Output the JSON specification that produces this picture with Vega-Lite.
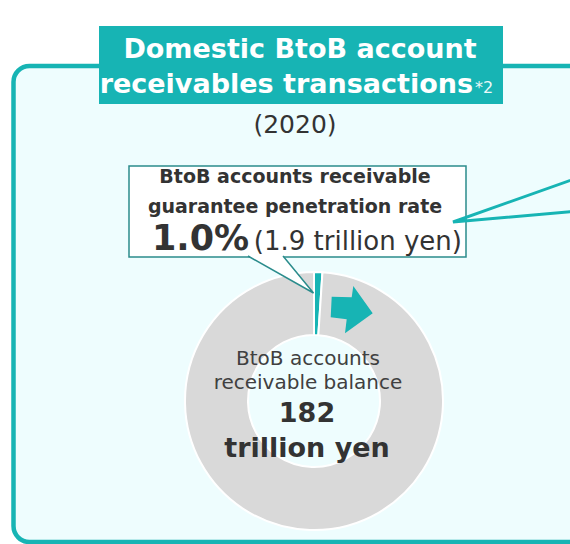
{
  "$schema": "https://vega.github.io/schema/vega-lite/v6.json",
  "width": 570,
  "height": 544,
  "autosize": {"type": "fit", "contains": "padding"},
  "padding": 0,
  "background": "white",
  "config": {"view": {"stroke": null}, "text": {"font": "DejaVu Sans", "baseline": "alphabetic"}},
  "datasets": {
    "balance": [
      {"category": "Guaranteed receivables", "value": 1.9},
      {"category": "Other receivables", "value": 180.1}
    ],
    "one": [{}]
  },
  "layer": [
    {
      "data": {"name": "one"},
      "mark": {"type": "rect", "clip": true, "cornerRadius": 16, "fill": "#EEFDFE", "stroke": "#17B4B4", "strokeWidth": 4.5},
      "encoding": {
        "x": {"datum": 13.5, "type": "quantitative", "scale": {"domain": [0, 570], "nice": false, "zero": false}, "axis": null},
        "x2": {"datum": 590},
        "y": {"datum": 66, "type": "quantitative", "scale": {"domain": [544, 0], "nice": false, "zero": false}, "axis": null},
        "y2": {"datum": 542}
      }
    },
    {
      "data": {"name": "one"},
      "mark": {"type": "rect", "fill": "#17B4B4"},
      "encoding": {
        "x": {"datum": 99, "type": "quantitative", "scale": {"domain": [0, 570], "nice": false, "zero": false}, "axis": null},
        "x2": {"datum": 503},
        "y": {"datum": 26, "type": "quantitative", "scale": {"domain": [544, 0], "nice": false, "zero": false}, "axis": null},
        "y2": {"datum": 104}
      }
    },
    {
      "data": {"name": "one"},
      "mark": {"type": "text", "text": "Domestic BtoB account", "fontSize": 27, "fontWeight": "bold", "fill": "white", "align": "center"},
      "encoding": {
        "x": {"datum": 300, "type": "quantitative", "scale": {"domain": [0, 570], "nice": false, "zero": false}, "axis": null},
        "y": {"datum": 58, "type": "quantitative", "scale": {"domain": [544, 0], "nice": false, "zero": false}, "axis": null}
      }
    },
    {
      "data": {"name": "one"},
      "mark": {"type": "text", "text": "receivables transactions", "fontSize": 27, "fontWeight": "bold", "fill": "white", "align": "right"},
      "encoding": {
        "x": {"datum": 473, "type": "quantitative", "scale": {"domain": [0, 570], "nice": false, "zero": false}, "axis": null},
        "y": {"datum": 93, "type": "quantitative", "scale": {"domain": [544, 0], "nice": false, "zero": false}, "axis": null}
      }
    },
    {
      "data": {"name": "one"},
      "mark": {"type": "text", "text": "*2", "fontSize": 16, "fill": "#EAF9F9", "align": "left"},
      "encoding": {
        "x": {"datum": 475, "type": "quantitative", "scale": {"domain": [0, 570], "nice": false, "zero": false}, "axis": null},
        "y": {"datum": 93, "type": "quantitative", "scale": {"domain": [544, 0], "nice": false, "zero": false}, "axis": null}
      }
    },
    {
      "data": {"name": "one"},
      "mark": {"type": "text", "text": "(2020)", "fontSize": 25, "fill": "#333333", "align": "center"},
      "encoding": {
        "x": {"datum": 295, "type": "quantitative", "scale": {"domain": [0, 570], "nice": false, "zero": false}, "axis": null},
        "y": {"datum": 133, "type": "quantitative", "scale": {"domain": [544, 0], "nice": false, "zero": false}, "axis": null}
      }
    },
    {
      "data": {"name": "balance"},
      "mark": {"type": "arc", "innerRadius": 66, "outerRadius": 129, "stroke": "white", "strokeWidth": 2},
      "encoding": {
        "theta": {"field": "value", "type": "quantitative", "stack": true},
        "order": {"field": "value", "sort": "ascending"},
        "color": {"field": "category", "type": "nominal", "scale": {"domain": ["Guaranteed receivables", "Other receivables"], "range": ["#17B4B4", "#D9D9D9"]}, "legend": null},
        "x": {"datum": 314, "type": "quantitative", "scale": {"domain": [0, 570], "nice": false, "zero": false}, "axis": null},
        "y": {"datum": 401, "type": "quantitative", "scale": {"domain": [544, 0], "nice": false, "zero": false}, "axis": null}
      }
    },
    {
      "data": {"name": "one"},
      "mark": {"type": "point", "shape": "M-0.812,-0.532L-0.012,-0.508L0.052,-0.96L0.828,0.132L-0.28,0.932L-0.212,0.372L-0.852,0.292Z", "size": 2500, "filled": true, "fill": "#17B4B4", "opacity": 1, "strokeWidth": 0},
      "encoding": {
        "x": {"datum": 352, "type": "quantitative", "scale": {"domain": [0, 570], "nice": false, "zero": false}, "axis": null},
        "y": {"datum": 310, "type": "quantitative", "scale": {"domain": [544, 0], "nice": false, "zero": false}, "axis": null}
      }
    },
    {
      "data": {"name": "one"},
      "mark": {"type": "text", "text": ["BtoB accounts", "receivable balance"], "fontSize": 20, "lineHeight": 24, "fill": "#404040", "align": "center"},
      "encoding": {
        "x": {"datum": 308, "type": "quantitative", "scale": {"domain": [0, 570], "nice": false, "zero": false}, "axis": null},
        "y": {"datum": 365, "type": "quantitative", "scale": {"domain": [544, 0], "nice": false, "zero": false}, "axis": null}
      }
    },
    {
      "data": {"name": "one"},
      "mark": {"type": "text", "text": ["182", "trillion yen"], "fontSize": 27, "fontWeight": "bold", "lineHeight": 35, "fill": "#333333", "align": "center"},
      "encoding": {
        "x": {"datum": 307, "type": "quantitative", "scale": {"domain": [0, 570], "nice": false, "zero": false}, "axis": null},
        "y": {"datum": 422, "type": "quantitative", "scale": {"domain": [544, 0], "nice": false, "zero": false}, "axis": null}
      }
    },
    {
      "data": {"name": "one"},
      "mark": {"type": "rect", "fill": "white", "stroke": "#2B8C8C", "strokeWidth": 1.5},
      "encoding": {
        "x": {"datum": 129, "type": "quantitative", "scale": {"domain": [0, 570], "nice": false, "zero": false}, "axis": null},
        "x2": {"datum": 466},
        "y": {"datum": 166, "type": "quantitative", "scale": {"domain": [544, 0], "nice": false, "zero": false}, "axis": null},
        "y2": {"datum": 257}
      }
    },
    {
      "data": {"name": "one"},
      "mark": {"type": "point", "shape": "M-0.8,-0.475L0.8375,0.45L0.075,-0.475", "size": 6400, "filled": true, "fill": "white", "stroke": "#2B8C8C", "strokeWidth": 1.5, "opacity": 1},
      "encoding": {
        "x": {"datum": 280, "type": "quantitative", "scale": {"domain": [0, 570], "nice": false, "zero": false}, "axis": null},
        "y": {"datum": 275, "type": "quantitative", "scale": {"domain": [544, 0], "nice": false, "zero": false}, "axis": null}
      }
    },
    {
      "data": {"name": "one"},
      "mark": {"type": "text", "text": ["BtoB accounts receivable", "guarantee penetration rate"], "fontSize": 19, "fontWeight": "bold", "lineHeight": 30, "fill": "#333333", "align": "center"},
      "encoding": {
        "x": {"datum": 295, "type": "quantitative", "scale": {"domain": [0, 570], "nice": false, "zero": false}, "axis": null},
        "y": {"datum": 183, "type": "quantitative", "scale": {"domain": [544, 0], "nice": false, "zero": false}, "axis": null}
      }
    },
    {
      "data": {"name": "one"},
      "mark": {"type": "text", "text": "1.0%", "fontSize": 35, "fontWeight": "bold", "fill": "#333333", "align": "left"},
      "encoding": {
        "x": {"datum": 152, "type": "quantitative", "scale": {"domain": [0, 570], "nice": false, "zero": false}, "axis": null},
        "y": {"datum": 250, "type": "quantitative", "scale": {"domain": [544, 0], "nice": false, "zero": false}, "axis": null}
      }
    },
    {
      "data": {"name": "one"},
      "mark": {"type": "text", "text": "(1.9 trillion yen)", "fontSize": 26, "fill": "#333333", "align": "right"},
      "encoding": {
        "x": {"datum": 462, "type": "quantitative", "scale": {"domain": [0, 570], "nice": false, "zero": false}, "axis": null},
        "y": {"datum": 250, "type": "quantitative", "scale": {"domain": [544, 0], "nice": false, "zero": false}, "axis": null}
      }
    },
    {
      "data": {"name": "one"},
      "mark": {"type": "point", "clip": true, "shape": "M1,-0.354L-0.954,0.338L1,0.169", "size": 16900, "filled": false, "stroke": "#17B4B4", "strokeWidth": 3, "opacity": 1},
      "encoding": {
        "x": {"datum": 515, "type": "quantitative", "scale": {"domain": [0, 570], "nice": false, "zero": false}, "axis": null},
        "y": {"datum": 200, "type": "quantitative", "scale": {"domain": [544, 0], "nice": false, "zero": false}, "axis": null}
      }
    }
  ]
}
